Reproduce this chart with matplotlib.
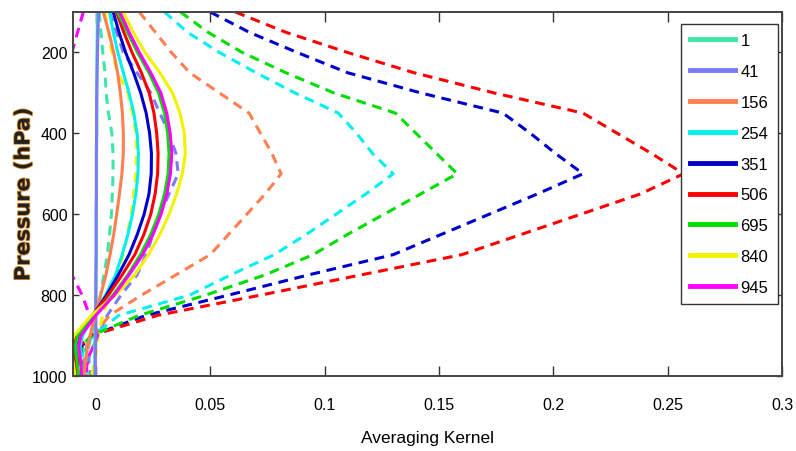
import numpy as np
import matplotlib.pyplot as plt
import matplotlib.patheffects as pe

plt.rcParams['font.family'] = ['Liberation Sans', 'DejaVu Sans']

# pressure levels (hPa)
p = [100, 150, 200, 250, 300, 350, 400, 450, 500, 550, 600, 650, 700, 750, 800, 850, 900, 925, 950, 975, 1000]

labels = ['1', '41', '156', '254', '351', '506', '695', '840', '945']
colors = ['#3ee6a6', '#7b7bf5', '#ff7f50', '#00f0f0', '#0000cc', '#ff0000', '#00dd00', '#f2f200', '#ff00ff']

# solid kernels
ak_1 = [0.0006, 0.0006, 0.0005, 0.0005, 0.0004, 0.0004, 0.0004, 0.0003, 0.0003, 0.0003, 0.0002, 0.0002, 0.0002, 0.0001, 0.0, -0.0002, -0.0004, -0.0005, -0.0005, -0.0005, -0.0005]
ak_41 = [0.0012, 0.0009, 0.0007, 0.0005, 0.0004, 0.0003, 0.0003, 0.0002, 0.0002, 0.0002, 0.0001, 0.0001, 0.0001, 0.0, 0.0, 0.0, 0.0, -0.0001, -0.0002, -0.0002, -0.0002]
ak_156 = [0.0032, 0.0057, 0.0078, 0.0095, 0.0107, 0.0116, 0.0120, 0.0120, 0.0114, 0.0103, 0.0091, 0.0078, 0.0062, 0.0044, 0.0021, -0.0004, -0.0025, -0.0035, -0.0043, -0.0048, -0.0052]
ak_254 = [0.0060, 0.0076, 0.0096, 0.0120, 0.0145, 0.0166, 0.0180, 0.0186, 0.0184, 0.0175, 0.0160, 0.0140, 0.0115, 0.0086, 0.0042, -0.0010, -0.0058, -0.0068, -0.0068, -0.0064, -0.0062]
ak_351 = [0.0076, 0.0101, 0.0130, 0.0165, 0.0196, 0.0220, 0.0235, 0.0243, 0.0242, 0.0232, 0.0211, 0.0181, 0.0145, 0.0098, 0.0047, -0.0014, -0.0078, -0.0088, -0.0086, -0.0081, -0.0077]
ak_506 = [0.0090, 0.0122, 0.0158, 0.0199, 0.0233, 0.0254, 0.0266, 0.0272, 0.0270, 0.0259, 0.0240, 0.0210, 0.0170, 0.0115, 0.0054, -0.0015, -0.0090, -0.0098, -0.0096, -0.0091, -0.0087]
ak_695 = [0.0095, 0.0138, 0.0182, 0.0232, 0.0274, 0.0300, 0.0314, 0.0320, 0.0316, 0.0300, 0.0275, 0.0240, 0.0195, 0.0140, 0.0075, -0.0010, -0.0080, -0.0090, -0.0086, -0.0080, -0.0076]
ak_840 = [0.0120, 0.0163, 0.0215, 0.0280, 0.0335, 0.0368, 0.0387, 0.0391, 0.0378, 0.0353, 0.0320, 0.0280, 0.0230, 0.0170, 0.0085, -0.0020, -0.0095, -0.0110, -0.0105, -0.0097, -0.0092]
ak_945 = [0.0105, 0.0145, 0.0190, 0.0240, 0.0284, 0.0310, 0.0325, 0.0332, 0.0326, 0.0310, 0.0285, 0.0250, 0.0205, 0.0145, 0.0080, 0.0, -0.0065, -0.0075, -0.0070, -0.0065, -0.0062]

# dashed kernels
akd_1 = [0.0015, 0.0022, 0.003, 0.004, 0.0045, 0.0055, 0.007, 0.0075, 0.0075, 0.0072, 0.0068, 0.006, 0.005, 0.0035, 0.002, 0.0, -0.002, -0.003, -0.004, -0.004, -0.003]
akd_41 = [0.006, 0.009, 0.012, 0.018, 0.024, 0.028, 0.032, 0.035, 0.036, 0.032, 0.028, 0.025, 0.022, 0.018, 0.011, 0.005, 0.001, -0.001, -0.003, -0.003, -0.002]
akd_156 = [0.019, 0.026, 0.033, 0.041, 0.054, 0.067, 0.072, 0.077, 0.081, 0.074, 0.066, 0.058, 0.050, 0.035, 0.020, 0.006, -0.001, -0.004, -0.005, -0.005, -0.004]
akd_254 = [0.030, 0.040, 0.054, 0.070, 0.087, 0.106, 0.114, 0.121, 0.130, 0.118, 0.105, 0.092, 0.078, 0.059, 0.041, 0.010, -0.001, -0.005, -0.006, -0.005, -0.004]
akd_351 = [0.050, 0.067, 0.088, 0.110, 0.142, 0.178, 0.190, 0.201, 0.213, 0.193, 0.172, 0.151, 0.130, 0.093, 0.058, 0.022, -0.002, -0.006, -0.007, -0.006, -0.005]
akd_506 = [0.061, 0.083, 0.110, 0.139, 0.174, 0.213, 0.228, 0.243, 0.257, 0.238, 0.212, 0.186, 0.160, 0.116, 0.072, 0.027, -0.002, -0.007, -0.008, -0.007, -0.006]
akd_695 = [0.037, 0.049, 0.064, 0.083, 0.104, 0.131, 0.140, 0.149, 0.158, 0.142, 0.126, 0.110, 0.095, 0.074, 0.048, 0.019, -0.002, -0.006, -0.007, -0.006, -0.005]
akd_840 = [0.004, 0.0055, 0.007, 0.0095, 0.014, 0.016, 0.0175, 0.0178, 0.0175, 0.0165, 0.0155, 0.0138, 0.012, 0.009, 0.006, 0.003, 0.001, 0.0005, 0.0, -0.001, -0.002]
akd_945 = [-0.0055, -0.008, -0.0105, -0.014, -0.018, -0.022, -0.026, -0.029, -0.031, -0.029, -0.026, -0.021, -0.016, -0.0105, -0.006, -0.0028, 0.0008, -0.001, -0.003, -0.004, -0.004]

solid = [ak_1, ak_41, ak_156, ak_254, ak_351, ak_506, ak_695, ak_840, ak_945]
dashed = [akd_1, akd_41, akd_156, akd_254, akd_351, akd_506, akd_695, akd_840, akd_945]

fig = plt.figure(figsize=(7.96, 4.52), dpi=100)
ax = fig.add_axes([73/796, 1-377/452, 709/796, 364/452])

for d, c in zip(dashed, colors):
    ax.plot(d, p, color=c, lw=2.2, ls=(0, (3.2, 2.2)))
handles = []
for s, c, l in zip(solid, colors, labels):
    h, = ax.plot(s, p, color=c, lw=2.2, label=l)
    handles.append(h)

ax.set_xlim(-0.01, 0.3)
ax.set_ylim(1000, 100)
ax.set_xticks([0, 0.05, 0.1, 0.15, 0.2, 0.25, 0.3])
ax.set_xticklabels(['0', '0.05', '0.1', '0.15', '0.2', '0.25', '0.3'])
ax.set_yticks([200, 400, 600, 800, 1000])
ax.tick_params(axis='x', direction='in', length=7, width=1, top=True, pad=15, labelsize=11.5, colors='#333333', labelcolor='black')
ax.tick_params(axis='y', direction='in', length=4.5, width=1, right=True, pad=4, labelsize=11.5, colors='#333333', labelcolor='black')
for sp in ax.spines.values():
    sp.set_color('#444444')
    sp.set_linewidth(1.4)

ax.set_xlabel('Averaging Kernel', fontsize=12.5, labelpad=13)
ax.set_ylabel('Pressure (hPa)', fontsize=15, fontweight='bold', family='DejaVu Sans', labelpad=-1,
              color='#222222', path_effects=[pe.withStroke(linewidth=1.2, foreground='#e0902a')])

leg = ax.legend(handles=handles, loc='upper left', bbox_to_anchor=(0.857, 0.967), borderaxespad=0,
                fontsize=12, handlelength=2.7, handletextpad=0.35, labelspacing=0.95,
                fancybox=False, framealpha=1, edgecolor='#333333', borderpad=0.55)
leg.get_frame().set_linewidth(1.0)
for h in leg.legend_handles:
    h.set_linewidth(3.5)

fig.savefig('out.png', dpi=100)
